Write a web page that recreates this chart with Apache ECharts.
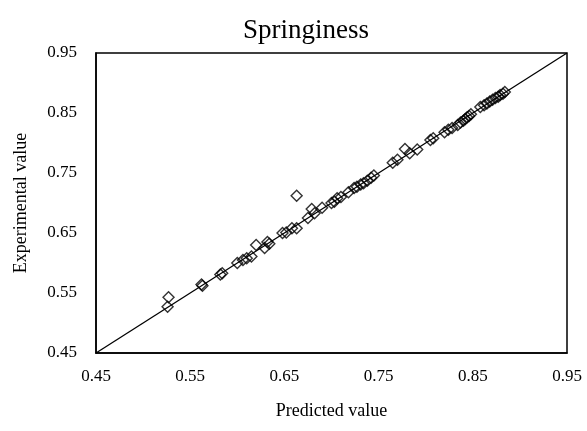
<!DOCTYPE html>
<html>
<head>
    <meta charset="utf-8" />
    <title>Springiness</title>
    <style>
        html, body { margin: 0; padding: 0; background: #fff; }
        #chart { width: 587px; height: 431px; }
    </style>
</head>
<body>
    <div id="chart"></div>
    <script src="https://cdn.jsdelivr.net/npm/echarts@6/dist/echarts.min.js"></script>
    <script>
        var predicted = [0.526, 0.527, 0.562, 0.563, 0.582, 0.584, 0.600, 0.606, 0.610, 0.615,
            0.620, 0.629, 0.632, 0.634, 0.648, 0.652, 0.658, 0.663, 0.663, 0.675,
            0.679, 0.682, 0.690, 0.700, 0.703, 0.706, 0.710, 0.718, 0.724, 0.727,
            0.731, 0.734, 0.738, 0.742, 0.745, 0.765, 0.770, 0.778, 0.783, 0.791,
            0.805, 0.808, 0.820, 0.824, 0.828, 0.834, 0.837, 0.840, 0.842, 0.844,
            0.846, 0.848, 0.858, 0.862, 0.865, 0.868, 0.871, 0.874, 0.877, 0.879,
            0.882, 0.884];
        var experimental = [0.527, 0.543, 0.564, 0.562, 0.581, 0.583, 0.600, 0.605, 0.608, 0.611,
            0.630, 0.625, 0.635, 0.632, 0.650, 0.651, 0.658, 0.658, 0.712, 0.675,
            0.690, 0.683, 0.692, 0.700, 0.702, 0.708, 0.710, 0.718, 0.725, 0.727,
            0.731, 0.733, 0.737, 0.742, 0.746, 0.767, 0.772, 0.790, 0.783, 0.789,
            0.805, 0.808, 0.818, 0.822, 0.825, 0.830, 0.834, 0.837, 0.840, 0.843,
            0.845, 0.848, 0.860, 0.863, 0.866, 0.869, 0.872, 0.875, 0.877, 0.880,
            0.882, 0.885];
        var diagonal = [0.45, 0.95];
        var tickValues = [0.45, 0.55, 0.65, 0.75, 0.85, 0.95];

        var points = predicted.map(function (p, i) { return [p, experimental[i]]; });
        var font = '"Liberation Serif", "Times New Roman", serif';

        var axisCommon = {
            type: 'value',
            min: 0.45,
            max: 0.95,
            interval: 0.1,
            nameLocation: 'middle',
            nameTextStyle: { fontFamily: font, fontSize: 18, color: '#000' },
            axisLine: { show: true, lineStyle: { color: '#000', width: 1.5 } },
            axisTick: { show: false },
            splitLine: { show: false },
            axisLabel: {
                fontFamily: font, fontSize: 17, color: '#000',
                formatter: function (v) {
                    var hit = tickValues.filter(function (t) { return Math.abs(t - v) < 1e-6; });
                    return hit.length ? hit[0].toFixed(2) : '';
                }
            }
        };

        var option = {
            animation: false,
            title: {
                text: 'Springiness',
                left: 301,
                top: 12,
                textAlign: 'center',
                textStyle: { fontFamily: font, fontSize: 27, fontWeight: 'normal', color: '#000' }
            },
            grid: {
                left: 96, right: 20, top: 53, bottom: 78,
                show: true, borderColor: '#000', borderWidth: 1.5, backgroundColor: '#fff'
            },
            xAxis: Object.assign({}, axisCommon, {
                name: 'Predicted value',
                nameGap: 49,
                axisLabel: Object.assign({}, axisCommon.axisLabel, { margin: 15 })
            }),
            yAxis: Object.assign({}, axisCommon, {
                name: 'Experimental value',
                nameGap: 66,
                nameRotate: 90,
                axisLabel: Object.assign({}, axisCommon.axisLabel, { margin: 19 })
            }),
            series: [{
                type: 'line',
                data: [[diagonal[0], diagonal[0]], [diagonal[1], diagonal[1]]],
                symbol: 'none',
                lineStyle: { color: '#000', width: 1.3 },
                z: 1
            }, {
                type: 'scatter',
                data: points,
                symbol: 'diamond',
                symbolSize: 11,
                itemStyle: { color: 'rgba(255,255,255,0)', borderColor: '#000', borderWidth: 1.4 },
                z: 2
            }]
        };

        var chart = echarts.init(document.getElementById('chart'));
        chart.setOption(option);
    </script>
</body>
</html>
